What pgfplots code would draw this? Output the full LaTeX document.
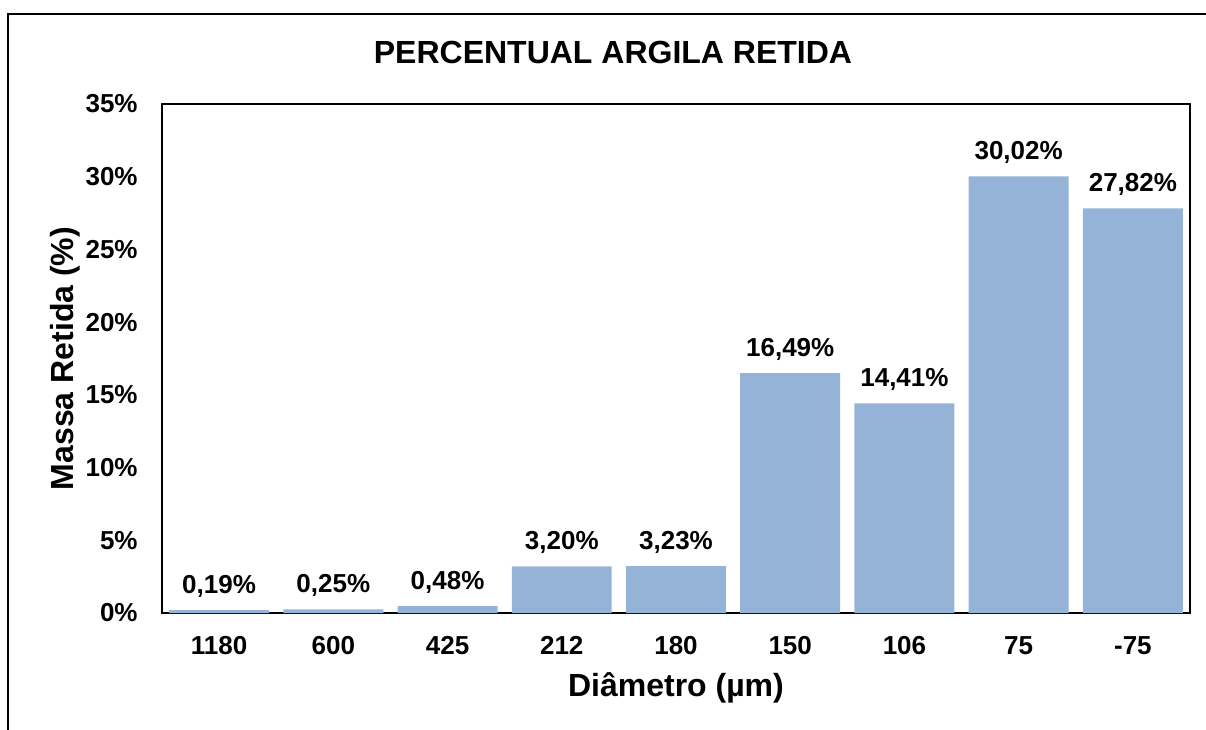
\documentclass[border=0pt]{standalone}
\usepackage{fontspec}
\setmainfont{Liberation Sans}
\usepackage{pgfplots}
\pgfplotsset{compat=1.18}
\definecolor{barblue}{HTML}{95B3D7}

\begin{document}
\begin{tikzpicture}
% page area and outer chart frame, relative to the plot box corner at (0,0)
\useasboundingbox (-81pt,-58pt) rectangle (522pt,306.5pt);
\draw[line width=1pt] (-77pt,-65pt) -- (-77pt,299.5pt) -- (530pt,299.5pt);
\node[anchor=base, font=\fontsize{16}{19}\selectfont\bfseries] at (225.5pt,274.85pt) {PERCENTUAL ARGILA RETIDA};
\begin{axis}[
  scale only axis, width=514pt, height=254.5pt,
  xmin=-0.5, xmax=8.5, ymin=0, ymax=35,
  ytick={0,5,...,35},
  yticklabel={\pgfmathprintnumber[assume math mode=true]{\tick}\%},
  xtick=data,
  xticklabels={1180,600,425,212,180,150,106,75,-75},
  major tick length=0pt,
  axis line style={line width=1pt},
  tick label style={font=\fontsize{13}{15}\selectfont\bfseries},
  yticklabel style={anchor=east, inner sep=0pt, xshift=-12pt},
  xticklabel style={anchor=base, inner sep=0pt, yshift=-20.5pt},
  xlabel={Diâmetro (µm)},
  ylabel={Massa Retida (\%)},
  label style={font=\fontsize{16}{19}\selectfont\bfseries},
  xlabel style={at={(axis description cs:0.5,-0.147)}, anchor=center},
  ylabel style={at={(axis description cs:-0.094,0.5)}, anchor=center},
  ybar, bar width=0.875,
  nodes near coords={\pgfmathprintnumber[fixed,fixed zerofill,precision=2,use comma,assume math mode=true]{\pgfplotspointmeta}\%},
  nodes near coords style={font=\fontsize{13}{15}\selectfont\bfseries, anchor=base, inner sep=0pt, yshift=8.4pt},
]
\addplot[fill=barblue, draw=none] coordinates {
  (0,0.19) (1,0.25) (2,0.48) (3,3.20) (4,3.23)
  (5,16.49) (6,14.41) (7,30.02) (8,27.82)
};
\end{axis}
\end{tikzpicture}
\end{document}
